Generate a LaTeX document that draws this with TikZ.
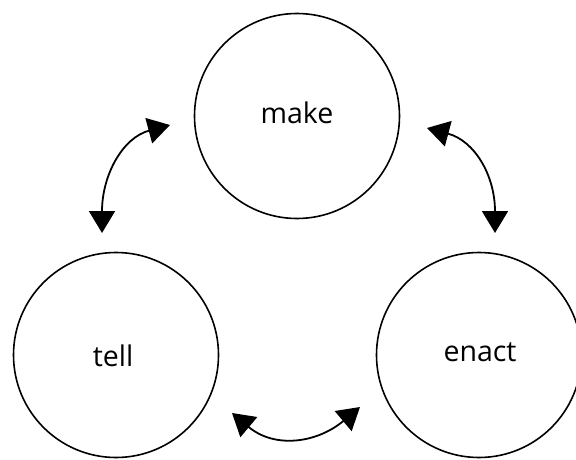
\documentclass[tikz,border=0pt]{standalone}
\usepackage{fontspec}
\setmainfont{Open Sans}
\usetikzlibrary{arrows.meta}
\begin{document}
\begin{tikzpicture}[x=1pt,y=1pt,
  stage/.style={circle, draw, line width=1.6pt, minimum size=205pt, inner sep=0pt},
  word/.style={font=\fontsize{28.5}{34}\selectfont, anchor=base, inner sep=0pt},
  link/.style={line width=1.8pt,
    {Triangle[width=26pt,length=22pt]}-{Triangle[width=26pt,length=22pt]}}
]
\useasboundingbox (0,0) rectangle (576,459);

% the three stages
\node[stage] (make)  at (297,343) {};
\node[stage] (tell)  at (116,104) {};
\node[stage] (enact) at (479,104) {};

\node[word] (makeW)  at (297,336) {make};
\node[word] (tellW)  at (113,93)  {tell};
\node[word] (enactW) at (480,98)  {enact};

% arrow end points between the stages
\coordinate (tmLow) at (102,226);
\coordinate (tmUp)  at (170,334);
\coordinate (emLow) at (495,226);
\coordinate (emUp)  at (427,331);
\coordinate (teL)   at (232,46);
\coordinate (teR)   at (360,52);

% two-way arrows
\draw[link] (tmLow) to[out=90,in=195,out distance=58pt,in distance=49pt] (tmUp);
\draw[link] (emLow) to[out=90,in=-15,out distance=58pt,in distance=49pt] (emUp);
\draw[link] (teL) to[out=-40,in=220,distance=56pt] (teR);
\end{tikzpicture}
\end{document}
